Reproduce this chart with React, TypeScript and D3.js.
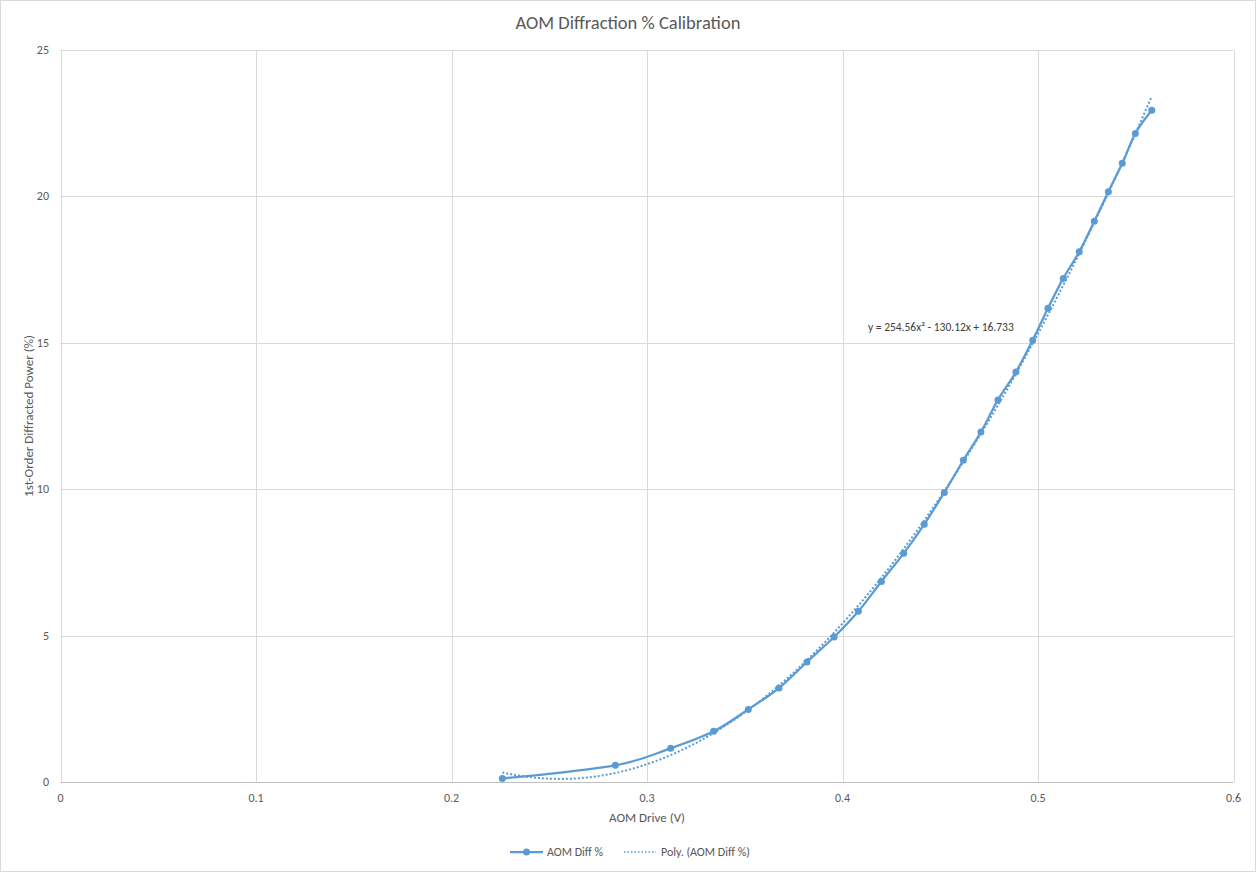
import React, { useRef, useEffect } from "react";
import * as d3 from "d3";

// AOM drive voltage (V) and measured 1st-order diffraction (%)
const driveVolts = [
    0.226, 0.2838, 0.3121, 0.3341, 0.3518, 0.3675, 0.3818, 0.3957, 0.4081, 0.4199,
    0.4313, 0.4418, 0.4521, 0.4618, 0.4708, 0.4795, 0.4887, 0.4973, 0.5051, 0.5129,
    0.5211, 0.5288, 0.536, 0.5431, 0.5498, 0.5582,
];
const diffPercent = [
    0.12, 0.57, 1.15, 1.73, 2.48, 3.21, 4.1, 4.95, 5.83, 6.85,
    7.81, 8.8, 9.89, 10.99, 11.95, 13.05, 14.0, 15.09, 16.18, 17.2,
    18.11, 19.15, 20.16, 21.13, 22.15, 22.94,
];

// Excel polynomial trendline coefficients (order 2)
const polyCoeffs = [16.733, -130.12, 254.56];
const equationLabel = "y = 254.56x² - 130.12x + 16.733";

const xTicks = [0, 0.1, 0.2, 0.3, 0.4, 0.5, 0.6];
const yTicks = [0, 5, 10, 15, 20, 25];

const seriesName = "AOM Diff %";
const trendName = "Poly. (AOM Diff %)";

const WIDTH = 1256;
const HEIGHT = 872;
const FONT = "Carlito, Calibri, Lato, 'Liberation Sans', Arial, sans-serif";
const BLUE = "#5B9BD5";
const TEXT = "#595959";
const GRID = "#D9D9D9";

const App: React.FC = () => {
    const svgRef = useRef<SVGSVGElement | null>(null);

    useEffect(() => {
        document.body.style.margin = "0";
        if (!svgRef.current) return;

        const svg = d3.select(svgRef.current);
        svg.selectAll("*").remove();

        const data = driveVolts.map((v, i) => ({ x: v, y: diffPercent[i] }));

        const xScale = d3.scaleLinear().domain([0, 0.6]).range([60.5, 1233.5]);
        const yScale = d3.scaleLinear().domain([0, 25]).range([782, 50]);

        // chart frame
        svg.append("rect")
            .attr("x", 0.5).attr("y", 0.5)
            .attr("width", WIDTH - 1).attr("height", HEIGHT - 1)
            .attr("fill", "#fff")
            .attr("stroke", GRID);

        // -----------------------------
        // Gridlines
        // -----------------------------
        const grid = svg.append("g");
        grid.selectAll("line.h")
            .data(yTicks.filter(t => t !== 0))
            .enter().append("line")
            .attr("x1", xScale(0)).attr("x2", xScale(0.6))
            .attr("y1", d => Math.round(yScale(d)) + 0.5)
            .attr("y2", d => Math.round(yScale(d)) + 0.5)
            .attr("stroke", GRID);
        grid.selectAll("line.v")
            .data(xTicks)
            .enter().append("line")
            .attr("y1", yScale(0)).attr("y2", yScale(25))
            .attr("x1", d => Math.round(xScale(d)) + 0.5)
            .attr("x2", d => Math.round(xScale(d)) + 0.5)
            .attr("stroke", GRID);

        // x axis line
        svg.append("line")
            .attr("x1", xScale(0)).attr("x2", xScale(0.6))
            .attr("y1", Math.round(yScale(0)) + 0.5)
            .attr("y2", Math.round(yScale(0)) + 0.5)
            .attr("stroke", "#BFBFBF");

        // -----------------------------
        // Tick labels
        // -----------------------------
        svg.append("g").selectAll("text")
            .data(yTicks)
            .enter().append("text")
            .attr("x", 49)
            .attr("y", d => yScale(d) + 4)
            .attr("text-anchor", "end")
            .attr("font-family", FONT).attr("font-size", 12)
            .attr("fill", TEXT)
            .text(d => d3.format("~g")(d));

        svg.append("g").selectAll("text")
            .data(xTicks)
            .enter().append("text")
            .attr("x", d => xScale(d))
            .attr("y", 802)
            .attr("text-anchor", "middle")
            .attr("font-family", FONT).attr("font-size", 12)
            .attr("fill", TEXT)
            .text(d => d3.format("~g")(d));

        // -----------------------------
        // Trendline (dotted)
        // -----------------------------
        const [x0, x1] = d3.extent(driveVolts) as [number, number];
        const trendPts = d3.range(0, 101).map(i => {
            const x = x0 + (x1 - x0) * i / 100;
            return { x, y: polyCoeffs[0] + polyCoeffs[1] * x + polyCoeffs[2] * x * x };
        });
        const line = d3.line<{ x: number; y: number }>()
            .x(d => xScale(d.x))
            .y(d => yScale(d.y));

        svg.append("path")
            .attr("d", line(trendPts))
            .attr("fill", "none")
            .attr("stroke", BLUE)
            .attr("stroke-width", 2)
            .attr("stroke-dasharray", "2 2");

        // -----------------------------
        // Series (smoothed line + markers)
        // -----------------------------
        svg.append("path")
            .attr("d", line.curve(d3.curveCatmullRom.alpha(0))(data))
            .attr("fill", "none")
            .attr("stroke", BLUE)
            .attr("stroke-width", 2.25)
            .attr("stroke-linecap", "round");

        svg.append("g").selectAll("circle")
            .data(data)
            .enter().append("circle")
            .attr("cx", d => xScale(d.x))
            .attr("cy", d => yScale(d.y))
            .attr("r", 3.5)
            .attr("fill", BLUE);

        // equation label
        svg.append("text")
            .attr("x", 868).attr("y", 331)
            .attr("font-family", FONT).attr("font-size", 11.5)
            .attr("fill", "#404040")
            .text(equationLabel);

        // -----------------------------
        // Titles
        // -----------------------------
        svg.append("text")
            .attr("x", WIDTH / 2).attr("y", 29)
            .attr("text-anchor", "middle")
            .attr("font-family", FONT).attr("font-size", 18.5)
            .attr("fill", TEXT)
            .text("AOM Diffraction % Calibration");

        svg.append("text")
            .attr("x", xScale(0.3)).attr("y", 822)
            .attr("text-anchor", "middle")
            .attr("font-family", FONT).attr("font-size", 13)
            .attr("fill", TEXT)
            .text("AOM Drive (V)");

        svg.append("text")
            .attr("transform", "translate(33, 416) rotate(-90)")
            .attr("text-anchor", "middle")
            .attr("font-family", FONT).attr("font-size", 13)
            .attr("fill", TEXT)
            .text("1st-Order Diffracted Power  (%)");

        // -----------------------------
        // Legend
        // -----------------------------
        const legend = svg.append("g").attr("transform", "translate(0, 852)");
        legend.append("line")
            .attr("x1", 510).attr("x2", 543).attr("y1", 0).attr("y2", 0)
            .attr("stroke", BLUE).attr("stroke-width", 2.25);
        legend.append("circle").attr("cx", 526.5).attr("cy", 0).attr("r", 3.5).attr("fill", BLUE);
        legend.append("text")
            .attr("x", 547).attr("y", 4)
            .attr("font-family", FONT).attr("font-size", 12)
            .attr("fill", TEXT)
            .text(seriesName);
        legend.append("line")
            .attr("x1", 624).attr("x2", 656).attr("y1", 0).attr("y2", 0)
            .attr("stroke", BLUE).attr("stroke-width", 1.5)
            .attr("stroke-dasharray", "1.5 2");
        legend.append("text")
            .attr("x", 661).attr("y", 4)
            .attr("font-family", FONT).attr("font-size", 12)
            .attr("fill", TEXT)
            .text(trendName);
    }, []);

    return (
        <svg
            ref={svgRef}
            width={WIDTH}
            height={HEIGHT}
            style={{ display: "block" }}
        />
    );
};

export default App;
